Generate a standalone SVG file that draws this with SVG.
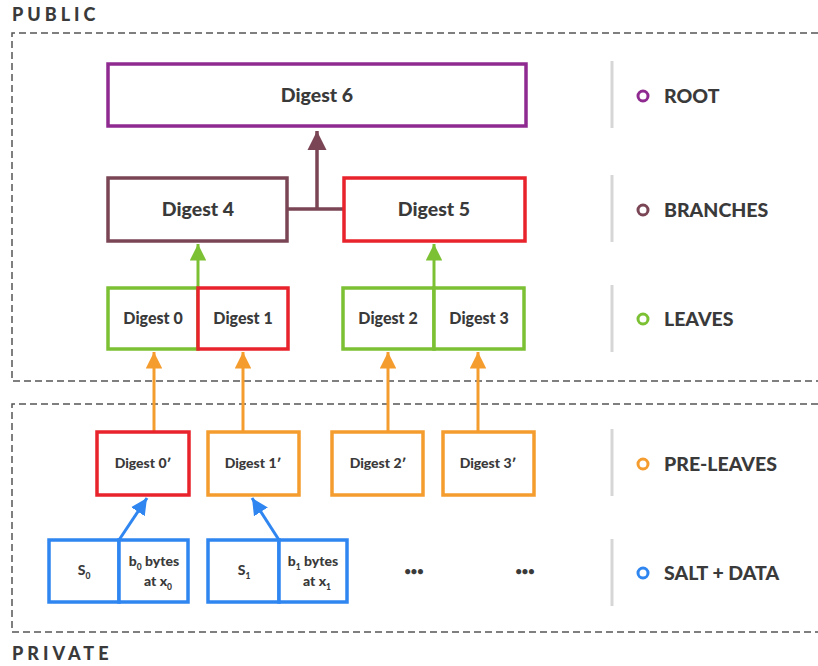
<svg xmlns="http://www.w3.org/2000/svg" width="818" height="666" viewBox="0 0 818 666">
<style>
text{font-family:Lato,"Liberation Sans",sans-serif;font-weight:900;fill:#3a3a3a}
.big{font-size:19.5px}
.leaf{font-size:16px}
.sm{font-size:14px}
.lg{font-size:19.5px}
.hdr{font-size:18px;letter-spacing:4px}
.sub{font-size:8.5px}
.box{fill:#fff;stroke-width:3.5}
.dash{fill:none;stroke:#555;stroke-width:1.5;stroke-dasharray:7,4}
.sep{stroke:#d6d6d6;stroke-width:3}
.dot{fill:none;stroke-width:3}
</style>
<defs>
<marker id="aM" viewBox="0 0 10 10" refX="10" refY="5" markerWidth="5.5" markerHeight="5.5" markerUnits="strokeWidth" orient="auto"><path d="M0,0L10,5L0,10z" fill="#7a4656"/></marker>
<marker id="aG" viewBox="0 0 10 10" refX="10" refY="5" markerWidth="5.5" markerHeight="5.5" markerUnits="strokeWidth" orient="auto"><path d="M0,0L10,5L0,10z" fill="#7cc034"/></marker>
<marker id="aO" viewBox="0 0 10 10" refX="10" refY="5" markerWidth="5.5" markerHeight="5.5" markerUnits="strokeWidth" orient="auto"><path d="M0,0L10,5L0,10z" fill="#f59c2e"/></marker>
<marker id="aB" viewBox="0 0 10 10" refX="10" refY="5" markerWidth="5.5" markerHeight="5.5" markerUnits="strokeWidth" orient="auto"><path d="M0,0L10,5L0,10z" fill="#2f86f0"/></marker>
</defs>
<rect width="818" height="666" fill="#fff"/>

<g id="regions">
<text class="hdr" x="12" y="21">PUBLIC</text>
<path class="dash" d="M818,33H12V381H818"/>
<path class="dash" d="M818,404H12V632H818"/>
<text class="hdr" x="12" y="660">PRIVATE</text>
</g>

<g id="connectors" fill="none">
<path d="M287,209H344M317,209V131" stroke="#7a4656" stroke-width="3.5" marker-end="url(#aM)"/>
<path d="M198,287V244" stroke="#7cc034" stroke-width="3" marker-end="url(#aG)"/>
<path d="M434,287V244" stroke="#7cc034" stroke-width="3" marker-end="url(#aG)"/>
<path d="M154,431V352" stroke="#f59c2e" stroke-width="3" marker-end="url(#aO)"/>
<path d="M243,431V352" stroke="#f59c2e" stroke-width="3" marker-end="url(#aO)"/>
<path d="M388,431V352" stroke="#f59c2e" stroke-width="3" marker-end="url(#aO)"/>
<path d="M478,431V352" stroke="#f59c2e" stroke-width="3" marker-end="url(#aO)"/>
<path d="M119,540L147,498" stroke="#2f86f0" stroke-width="3" marker-end="url(#aB)"/>
<path d="M279,540L252,498" stroke="#2f86f0" stroke-width="3" marker-end="url(#aB)"/>
</g>

<g id="digest6"><rect class="box" x="108" y="64" width="418" height="62" stroke="#8f2a90"/><text class="big" x="317" y="102" text-anchor="middle">Digest 6</text></g>
<g id="digest4"><rect class="box" x="108" y="178" width="179" height="63" stroke="#7a4656"/><text class="big" x="198" y="216" text-anchor="middle">Digest 4</text></g>
<g id="digest5"><rect class="box" x="344" y="178" width="181" height="63" stroke="#e8232b"/><text class="big" x="434" y="216" text-anchor="middle">Digest 5</text></g>

<g id="digest0"><rect class="box" x="108" y="288" width="90" height="61" stroke="#7cc034"/><text class="leaf" x="153" y="324" text-anchor="middle">Digest 0</text></g>
<g id="digest1"><rect class="box" x="198" y="288" width="90" height="61" stroke="#e8232b"/><text class="leaf" x="243" y="324" text-anchor="middle">Digest 1</text></g>
<g id="digest2"><rect class="box" x="343" y="288" width="91" height="61" stroke="#7cc034"/><text class="leaf" x="388" y="324" text-anchor="middle">Digest 2</text></g>
<g id="digest3"><rect class="box" x="434" y="288" width="90" height="61" stroke="#7cc034"/><text class="leaf" x="479" y="324" text-anchor="middle">Digest 3</text></g>

<g id="digest0p"><rect class="box" x="97" y="432" width="92" height="63" stroke="#e8232b"/><text class="sm" x="143" y="468" text-anchor="middle">Digest 0′</text></g>
<g id="digest1p"><rect class="box" x="208" y="432" width="91" height="63" stroke="#f59c2e"/><text class="sm" x="253" y="468" text-anchor="middle">Digest 1′</text></g>
<g id="digest2p"><rect class="box" x="332" y="432" width="91" height="63" stroke="#f59c2e"/><text class="sm" x="378" y="468" text-anchor="middle">Digest 2′</text></g>
<g id="digest3p"><rect class="box" x="443" y="432" width="91" height="63" stroke="#f59c2e"/><text class="sm" x="488" y="468" text-anchor="middle">Digest 3′</text></g>

<g id="salt0"><rect class="box" x="49" y="540" width="70" height="62" stroke="#2f86f0"/><text class="sm" x="84" y="575" text-anchor="middle">S<tspan class="sub" dy="4">0</tspan></text></g>
<g id="data0"><rect class="box" x="119" y="540" width="69" height="62" stroke="#2f86f0"/><text class="sm" x="154" y="566" text-anchor="middle">b<tspan class="sub" dy="4">0</tspan><tspan dy="-4"> bytes</tspan></text><text class="sm" x="158" y="586" text-anchor="middle">at x<tspan class="sub" dy="4">0</tspan></text></g>
<g id="salt1"><rect class="box" x="208" y="540" width="71" height="62" stroke="#2f86f0"/><text class="sm" x="244" y="575" text-anchor="middle">S<tspan class="sub" dy="4">1</tspan></text></g>
<g id="data1"><rect class="box" x="279" y="540" width="68" height="62" stroke="#2f86f0"/><text class="sm" x="313" y="566" text-anchor="middle">b<tspan class="sub" dy="4">1</tspan><tspan dy="-4"> bytes</tspan></text><text class="sm" x="317" y="586" text-anchor="middle">at x<tspan class="sub" dy="4">1</tspan></text></g>
<g id="ellipsis1"><text x="414" y="575" text-anchor="middle" font-size="11">•••</text></g>
<g id="ellipsis2"><text x="525" y="575" text-anchor="middle" font-size="11">•••</text></g>

<g id="legend">
<line class="sep" x1="612" y1="61" x2="612" y2="128"/>
<circle class="dot" cx="643" cy="96" r="5" stroke="#8f2a90"/><text class="lg" x="664" y="103">ROOT</text>
<line class="sep" x1="612" y1="175" x2="612" y2="242"/>
<circle class="dot" cx="643" cy="210" r="5" stroke="#7a4656"/><text class="lg" x="664" y="217">BRANCHES</text>
<line class="sep" x1="612" y1="285" x2="612" y2="352"/>
<circle class="dot" cx="643" cy="319" r="5" stroke="#7cc034"/><text class="lg" x="664" y="326">LEAVES</text>
<line class="sep" x1="612" y1="429" x2="612" y2="496"/>
<circle class="dot" cx="643" cy="464" r="5" stroke="#f59c2e"/><text class="lg" x="664" y="471">PRE-LEAVES</text>
<line class="sep" x1="612" y1="539" x2="612" y2="606"/>
<circle class="dot" cx="643" cy="573" r="5" stroke="#2f86f0"/><text class="lg" x="664" y="580">SALT + DATA</text>
</g>
</svg>
